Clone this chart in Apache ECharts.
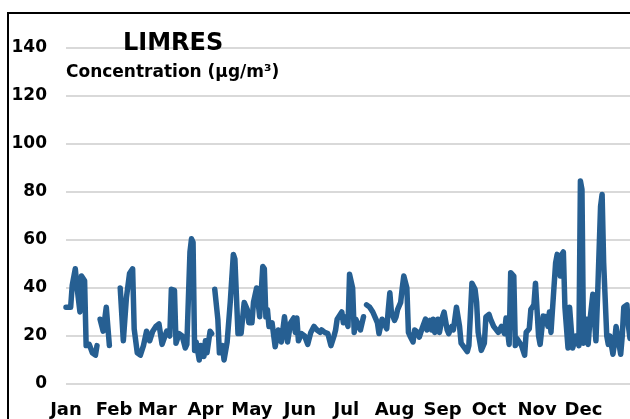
<!DOCTYPE html>
<html>
<head>
<meta charset="utf-8">
<script src="https://cdn.jsdelivr.net/npm/echarts@6/dist/echarts.min.js"></script>
<style>
  html, body { margin: 0; padding: 0; background: #fff; }
  #chart { width: 630px; height: 419px; }
</style>
</head>
<body>
<div id="chart"></div>
<script>
// month tick labels and lengths
const months = ['Jan', 'Feb', 'Mar', 'Apr', 'May', 'Jun', 'Jul', 'Aug', 'Sep', 'Oct', 'Nov', 'Dec']
const monthDays = [31, 28, 31, 30, 31, 30, 31, 31, 30, 31, 30, 31]

// day of year (0 = Jan 1) and concentration, null = gap in record
const days = [
  0, 3, 4, 6, 7, 9, 10, 12, 13, 15, 17, 19, 20, 21,
  22, 24, 25, 26, 28, 31,
  35, 37, 39, 41, 43, 44, 46, 48, 50, 52, 54, 56, 58, 60, 62, 63, 65, 67, 68, 70,
  71, 73, 75, 77, 78, 80, 81, 82, 83, 84, 86, 87, 89, 90, 91, 93, 94, 95,
  96, 98, 99, 101, 102, 104, 106, 108, 109, 111, 113, 115, 117, 118, 120, 121, 123, 124,
  125, 127, 128, 129, 130, 131, 133, 135, 136, 137, 139, 141, 142, 143, 145, 147, 148, 149,
  150, 152, 154, 156, 158, 160, 162, 164, 165, 167, 169, 170, 171, 173, 174, 175, 176, 178,
  179, 180, 182, 183, 185, 186, 187, 189, 190, 192, 193,
  194, 196, 198, 200, 201, 202, 204, 205, 207, 208, 209, 210, 212, 213, 214, 216, 217, 218,
  220, 221, 222, 224, 225, 227, 228, 230, 232, 233, 235, 236, 237, 238, 240, 241, 243, 244,
  246, 247, 249, 250, 252, 254, 255, 256, 259, 260, 262, 264, 265, 266, 268, 270, 271, 273,
  274, 276, 277, 279, 281, 283, 284, 285, 286, 287, 289, 290, 291, 293, 294, 296, 297, 299,
  300, 301, 302, 303, 305, 306, 308, 310, 311, 312, 313, 315, 316, 317, 319, 320, 321, 322,
  324, 325, 326, 327, 329, 331, 332, 333, 334, 336, 337, 338, 340, 341, 342, 343, 345, 346,
  347, 349, 350, 351, 353, 354, 355, 356, 358, 359, 360, 362, 363, 364
]
const values = [
  32, 32, 41, 48, 41, 30, 45, 43, 16, 16.5, 13, 12, 16, null,
  27, 22, 27, 32, 16, null,
  40, 18, 36, 46, 48, 23, 13, 12, 16, 22, 18, 22, 24, 25, 16.5, 16, 22, 20, 39.5, 39,
  17, 21, 20, 15, 16.5, 55, 60.5, 59, 14, 17.5, 10, 16, 11.5, 18, 13, 22, 21, null,
  39.5, 27, 13, 16, 10, 17.5, 34, 54, 52, 21, 21, 34, 31, 25.5, 25.5, 34, 40, 39.5,
  28, 49, 48, 28, 31, 24, 25.5, 15.5, 15, 22.5, 17.5, 28, 22.5, 17.5, 25.5, 27.5, 21.5, 27.5,
  18, 21, 20, 16.5, 21.5, 24, 22.5, 21.5, 22.5, 21.5, 21, 18.5, 16, 20, 22.5, 27, 27, 30,
  25.5, 28, 24, 45.7, 40, 21.5, 27, 24, 22.5, 28, null,
  33, 32, 30, 27, 25.5, 21, 27, 26.5, 23, 31, 38, 30, 26.5, 28, 31, 34, 40, 45,
  40, 21.5, 20, 17.5, 22.5, 21.5, 19.5, 23.5, 27, 22.5, 26.5, 22.5, 27, 21.5, 27, 21.5, 28, 30,
  22.5, 21, 24, 22.5, 32, 24, 17, 17, 13.5, 16, 42, 39.5, 34, 21.5, 14, 17, 28, 29,
  27, 24, 23.5, 21.5, 24, 21, 27.5, 27, 16.5, 46.4, 45, 16, 19, 17, 16, 12, 21.5, 23,
  31, 32, 33, 42, 20, 16.5, 28.3, 28, 24, 30, 21.5, 41, 50.5, 54, 45, 54, 55, 32,
  15, 32, 32, 15, 20, 16, 84.6, 81, 17, 27, 16.5, 25.5, 37.4, 37, 18, 35, 74, 79,
  50.5, 20, 16.5, 20, 12.4, 17, 24, 24, 12.4, 20, 32, 33, 24, 19
]

const yTicks = [0, 20, 40, 60, 80, 100, 120, 140]

// one category per day, month names on the first day of each month
const categories = []
const monthStart = {}
months.forEach((m, i) => {
  for (let d = 1; d <= monthDays[i]; d++) {
    if (d === 1) monthStart[categories.length] = m
    categories.push(m + ' ' + d)
  }
})

const seriesData = days.map((d, i) => [d, values[i] === null ? '-' : values[i]])

// the original text is wide, DejaVu bold comes closest
const font = "'DejaVu Sans', 'Liberation Sans', Arial, sans-serif"
const chart = echarts.init(document.getElementById('chart'))

const option = {
  animation: false,
  backgroundColor: '#fff',
  title: [
    {
      text: 'LIMRES',
      left: 118,
      top: 27,
      textStyle: { fontFamily: font, fontWeight: 'bold', fontSize: 24, color: '#000' }
    },
    {
      text: 'Concentration (µg/m³)',
      left: 61,
      top: 59,
      textStyle: { fontFamily: font, fontWeight: 'bold', fontSize: 17, color: '#000' }
    }
  ],
  graphic: [
    {
      type: 'rect',
      shape: { x: 8, y: 13, width: 700, height: 500 },
      style: { fill: 'none', stroke: '#000', lineWidth: 2 },
      silent: true
    }
  ],
  grid: { left: 66, right: 0, top: 48, bottom: 35 },
  xAxis: {
    type: 'category',
    data: categories,
    boundaryGap: false,
    axisLine: { show: false },
    axisTick: { show: false },
    axisLabel: {
      interval: (idx) => monthStart[idx] !== undefined,
      formatter: (val, idx) => monthStart[idx] || '',
      margin: 17,
      fontFamily: font,
      fontWeight: 'bold',
      fontSize: 18,
      color: '#000'
    },
    splitLine: { show: false }
  },
  yAxis: {
    type: 'value',
    min: yTicks[0],
    max: yTicks[yTicks.length - 1],
    interval: 20,
    axisLine: { show: false },
    axisTick: { show: false },
    axisLabel: {
      margin: 19,
      fontFamily: font,
      fontWeight: 'bold',
      fontSize: 17,
      color: '#000'
    },
    splitLine: { lineStyle: { color: '#d9d9d9', width: 2 } }
  },
  series: [
    {
      name: 'LIMRES',
      type: 'line',
      data: seriesData,
      showSymbol: false,
      connectNulls: false,
      lineStyle: { color: '#265f92', width: 5.5, join: 'round', cap: 'round' }
    }
  ]
}

chart.setOption(option)
</script>
</body>
</html>
